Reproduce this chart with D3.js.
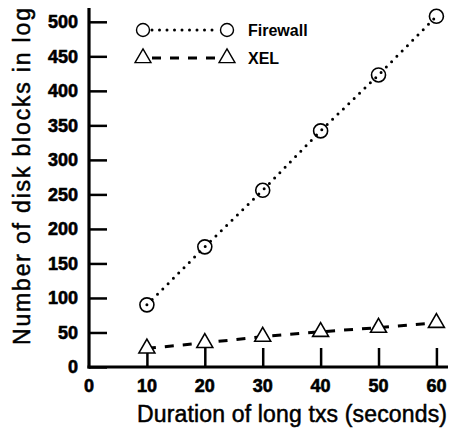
<!DOCTYPE html>
<html>
<head>
<meta charset="utf-8">
<script src="https://cdn.jsdelivr.net/npm/d3@7"></script>
<style>
  body { margin: 0; background: #fff; }
  svg text { font-family: "Liberation Sans", Arial, sans-serif; fill: #000; }
</style>
</head>
<body>
<div id="chart"></div>
<script>
// durations of long transactions (seconds)
const durations = [10, 20, 30, 40, 50, 60];
// disk blocks in log
const firewallBlocks = [90, 174, 256, 342, 423, 508];
const xelBlocks = [27, 35, 44, 51, 57, 64];

const xTicks = [0, 10, 20, 30, 40, 50, 60];
const yTicks = [0, 50, 100, 150, 200, 250, 300, 350, 400, 450, 500];

const width = 450, height = 429;

const svg = d3.select("#chart")
  .append("svg")
  .attr("width", width)
  .attr("height", height);

const x = d3.scaleLinear().domain([0, 62]).range([89, 448]);
const y = d3.scaleLinear().domain([0, 520]).range([367, 8]);

// y axis: ticks pointing inward
const yAxis = svg.append("g")
  .attr("transform", `translate(${x(0)},0)`)
  .call(d3.axisRight(y).tickValues(yTicks).tickSize(18).tickFormat(""));
yAxis.select(".domain").remove();
yAxis.selectAll(".tick line").attr("stroke", "#000").attr("stroke-width", 2.5);

svg.append("g").selectAll("text")
  .data(yTicks)
  .enter()
  .append("text")
    .attr("x", 78)
    .attr("y", d => y(d))
    .attr("dy", "0.36em")
    .attr("text-anchor", "end")
    .style("font-size", "18px")
    .style("font-weight", "bold")
    .style("stroke", "#000")
    .style("stroke-width", 0.6)
    .text(d => d);

// x axis: ticks pointing up (no tick at 0)
const xAxis = svg.append("g")
  .attr("transform", `translate(0,${y(0)})`)
  .call(d3.axisTop(x).tickValues(durations).tickSize(19).tickFormat(""));
xAxis.select(".domain").remove();
xAxis.selectAll(".tick line").attr("stroke", "#000").attr("stroke-width", 2.5);

svg.append("g").selectAll("text")
  .data(xTicks)
  .enter()
  .append("text")
    .attr("x", d => x(d))
    .attr("y", 392)
    .attr("text-anchor", "middle")
    .style("font-size", "18px")
    .style("font-weight", "bold")
    .style("stroke", "#000")
    .style("stroke-width", 0.6)
    .text(d => d);

// axis lines
svg.append("line")
  .attr("x1", x(0)).attr("x2", x(0))
  .attr("y1", 8).attr("y2", y(0) + 1.5)
  .attr("stroke", "#000").attr("stroke-width", 3.2);
svg.append("line")
  .attr("x1", x(0) - 1.5).attr("x2", 448)
  .attr("y1", y(0)).attr("y2", y(0))
  .attr("stroke", "#000").attr("stroke-width", 3.2);

// axis titles
svg.append("text")
  .attr("x", 137)
  .attr("y", 422)
  .attr("textLength", 310)
  .attr("lengthAdjust", "spacing")
  .style("font-size", "23px")
  .style("stroke", "#000")
  .style("stroke-width", 0.5)
  .text("Duration of long txs (seconds)");

svg.append("text")
  .attr("transform", "translate(30,345) rotate(-90)")
  .attr("textLength", 337)
  .attr("lengthAdjust", "spacing")
  .style("font-size", "23px")
  .style("stroke", "#000")
  .style("stroke-width", 0.5)
  .text("Number of disk blocks in log");

// lines
const fwData = durations.map((d, i) => ({ t: d, v: firewallBlocks[i] }));
const xelData = durations.map((d, i) => ({ t: d, v: xelBlocks[i] }));

const line = d3.line().x(d => x(d.t)).y(d => y(d.v));

svg.append("path")
  .datum(fwData)
  .attr("d", line)
  .attr("fill", "none")
  .attr("stroke", "#000")
  .attr("stroke-width", 3)
  .attr("stroke-linecap", "round")
  .attr("stroke-dasharray", "0 7.5");

svg.append("path")
  .datum(xelData)
  .attr("d", line)
  .attr("fill", "none")
  .attr("stroke", "#000")
  .attr("stroke-width", 3)
  .attr("stroke-dasharray", "9 9");

// markers
svg.selectAll(".fw")
  .data(fwData)
  .enter()
  .append("circle")
    .attr("class", "fw")
    .attr("cx", d => x(d.t))
    .attr("cy", d => y(d.v))
    .attr("r", 7)
    .attr("fill", "none")
    .attr("stroke", "#000")
    .attr("stroke-width", 1.6);

const tri = d3.symbol().type(d3.symbolTriangle).size(110);
svg.selectAll(".xel")
  .data(xelData)
  .enter()
  .append("path")
    .attr("class", "xel")
    .attr("transform", d => `translate(${x(d.t)},${y(d.v)})`)
    .attr("d", tri)
    .attr("fill", "#fff")
    .attr("stroke", "#000")
    .attr("stroke-width", 1.6);

// legend
const legend = [
  { name: "Firewall", dash: "0 7.5", cap: "round", y: 30, shape: "circle" },
  { name: "XEL", dash: "9 9", cap: "butt", y: 58, shape: "triangle" }
];
const lg = svg.selectAll(".legend")
  .data(legend)
  .enter()
  .append("g")
    .attr("class", "legend");

lg.append("line")
  .attr("x1", 152).attr("x2", 219)
  .attr("y1", d => d.y).attr("y2", d => d.y)
  .attr("stroke", "#000")
  .attr("stroke-width", 3)
  .attr("stroke-linecap", d => d.cap)
  .attr("stroke-dasharray", d => d.dash);

[143, 227].forEach(cx => {
  lg.filter(d => d.shape === "circle")
    .append("circle")
      .attr("cx", cx).attr("cy", d => d.y)
      .attr("r", 6.5)
      .attr("fill", "#fff")
      .attr("stroke", "#000")
      .attr("stroke-width", 1.4);
  lg.filter(d => d.shape === "triangle")
    .append("path")
      .attr("transform", d => `translate(${cx},${d.y})`)
      .attr("d", tri)
      .attr("fill", "#fff")
      .attr("stroke", "#000")
      .attr("stroke-width", 1.4);
});

lg.append("text")
  .attr("x", 248)
  .attr("y", d => d.y)
  .attr("dy", "0.36em")
  .style("font-size", "16px")
  .style("font-weight", "bold")
  .text(d => d.name);
</script>
</body>
</html>
